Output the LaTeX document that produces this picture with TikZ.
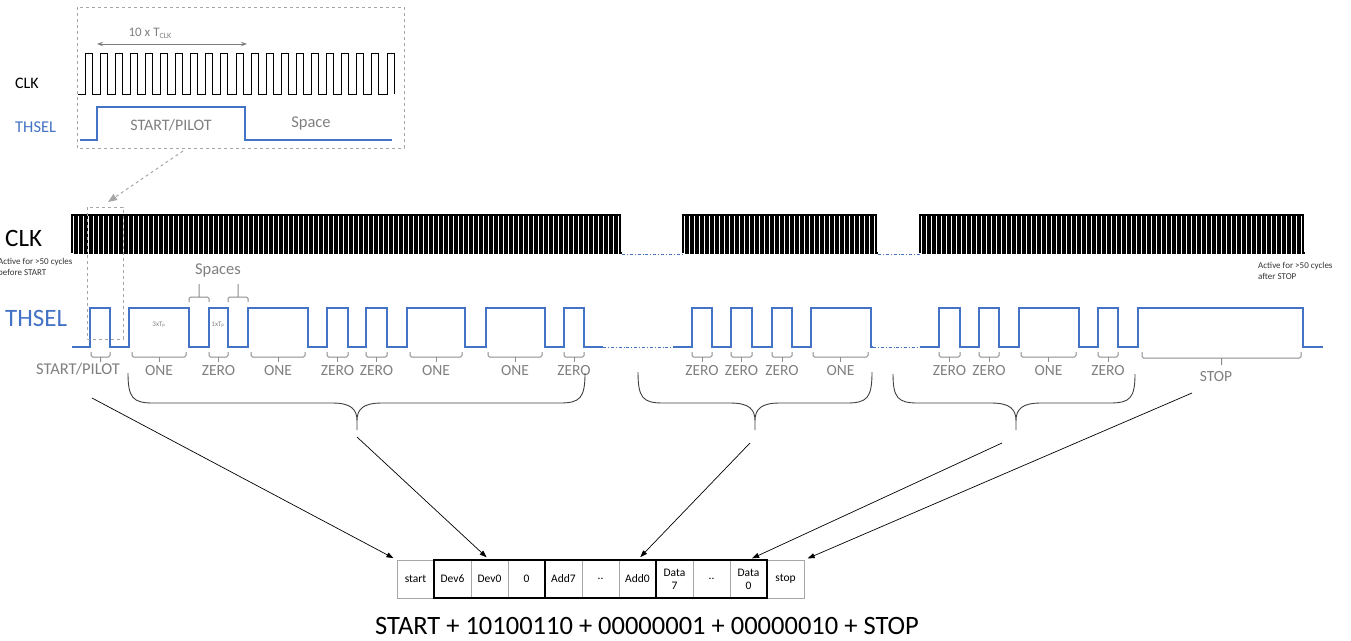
\documentclass[tikz,border=0pt]{standalone}
\usepackage{fontspec}
\setmainfont{Carlito}
\usetikzlibrary{arrows.meta,positioning}
\definecolor{thselblue}{HTML}{4472C4}
\definecolor{labgray}{HTML}{7F7F7F}
\definecolor{brgray}{HTML}{8C8C8C}
\definecolor{boxgray}{HTML}{A6A6A6}

\begin{document}
\begin{tikzpicture}[x=1pt, y=-1pt,
  clk/.style={black, line width=2pt},
  thsel/.style={thselblue, line width=1.1pt},
  gapline/.style={thselblue, line width=0.8pt, dash dot},
  bitbr/.style={brgray, line width=1pt, rounded corners=1.5pt},
  bitlbl/.style={text=labgray, font=\fontsize{15.5}{16}\selectfont, inner sep=0pt},
  tinylbl/.style={text=labgray, font=\fontsize{7}{8}\selectfont, inner sep=0pt},
  note/.style={text=black!80, font=\fontsize{9}{11}\selectfont, align=left, inner sep=0pt, anchor=west},
  bigbrace/.style={black!75, line width=0.9pt},
  link/.style={-{Triangle[length=7pt,width=5pt]}, line width=0.7pt, shorten >=4pt},
  zoombox/.style={boxgray, dashed, line width=0.8pt},
  cell/.style={draw=boxgray, line width=0.6pt, minimum width=37pt, minimum height=38pt,
    inner sep=1pt, outer sep=0pt, align=center, font=\fontsize{11.5}{13}\selectfont},
  grp/.style={black, line width=1.8pt}
]
\useasboundingbox (0,0) rectangle (1351,640);

% zoomed view of the start
\draw[zoombox] (77,7) rectangle (404,148);
\node[anchor=west, inner sep=0pt, font=\fontsize{16}{18}\selectfont] (clkin) at (15,83) {CLK};
\node[anchor=west, inner sep=0pt, text=thselblue, font=\fontsize{16.5}{18}\selectfont] (thselin) at (15,127) {THSEL};
\draw[line width=0.9pt] (78,94) -- (85,94)
  \foreach \i in {1,...,20} { -- ++(0,-41) -- ++(7,0) -- ++(0,41) -- ++(8.1,0) }
  -- ++(0,-41) -- ++(7,0) -- ++(0,41);
\coordinate (tl) at (97,44);
\coordinate (tr) at (247,44);
\draw[labgray, line width=0.9pt, {Stealth[length=6pt]}-{Stealth[length=6pt]}] (tl) -- (tr);
\node[text=labgray, inner sep=0pt, font=\fontsize{13}{14}\selectfont] (tclk) at (150,33)
  {10 x T\raisebox{-0.35ex}{\fontsize{8}{9}\selectfont CLK}};
\draw[thsel] (80,140) -- (97,140) -- (97,107) -- (245,107) -- (245,140) -- (392,140);
\node[bitlbl, font=\fontsize{16}{18}\selectfont] (pilotin) at (171,125) {START/PILOT};
\node[bitlbl, font=\fontsize{16.5}{18}\selectfont] (spacein) at (311,123) {Space};
\coordinate (zoomfrom) at (183,151);
\coordinate (zoomto) at (108,202);
\draw[zoombox, line width=1pt, -{Triangle[length=9pt,width=7pt]}] (zoomfrom) -- (zoomto);

% CLK bursts
\node[anchor=west, inner sep=0pt, font=\fontsize{25}{27}\selectfont] (clk) at (5,238) {CLK};
\foreach \x/\n in {72/110, 683/39, 920/77}
  \draw[clk] (\x,253) \foreach \i in {1,...,\n} { -- ++(0,-38) -- ++(2.5,0) -- ++(0,38) -- ++(2.5,0) };
\draw[gapline] (622,254) -- (683,254);
\draw[gapline] (878,254) -- (920,254);
\node[note] (before) at (-2,267) {Active for >50 cycles\\before START};
\node[note] (after) at (1258,271) {Active for >50 cycles\\after STOP};

% THSEL
\node[anchor=west, inner sep=0pt, text=thselblue, font=\fontsize{25}{27}\selectfont] (thsel) at (5,318) {THSEL};
\draw[thsel] (72,347) -- (90,347) -- (90,308) -- (110,308) -- (110,347) -- (129,347)
  -- (129,308) -- (189,308) -- (189,347) -- (209,347) -- (209,308) -- (228,308)
  -- (228,347) -- (248,347) -- (248,308) -- (308,308) -- (308,347) -- (327,347)
  -- (327,308) -- (348,308) -- (348,347) -- (366,347) -- (366,308) -- (387,308)
  -- (387,347) -- (407,347) -- (407,308) -- (465,308) -- (465,347) -- (486,347)
  -- (486,308) -- (545,308) -- (545,347) -- (564,347) -- (564,308) -- (584,308)
  -- (584,347) -- (603,347);
\draw[gapline] (603,347) -- (673,347);
\draw[thsel] (673,347) -- (692,347) -- (692,308) -- (712,308) -- (712,347) -- (731,347)
  -- (731,308) -- (752,308) -- (752,347) -- (772,347) -- (772,308) -- (792,308)
  -- (792,347) -- (811,347) -- (811,308) -- (871,308) -- (871,347) -- (873,347);
\draw[gapline] (873,347) -- (920,347);
\draw[thsel] (920,347) -- (939,347) -- (939,308) -- (960,308) -- (960,347) -- (979,347)
  -- (979,308) -- (999,308) -- (999,347) -- (1019,347) -- (1019,308) -- (1079,308)
  -- (1079,347) -- (1098,347) -- (1098,308) -- (1118,308) -- (1118,347) -- (1138,347)
  -- (1138,308) -- (1303,308) -- (1303,347) -- (1323,347);
\draw[zoombox] (87,207) rectangle (123,339);
\node[tinylbl] (tp3) at (159,325) {3xT\textsubscript{P}};
\node[tinylbl] (tp1) at (218,325) {1xT\textsubscript{P}};

% spaces
\foreach \a/\b in {189/209, 228/248}
  \draw[bitbr] (\a,302) -- (\a,297) -- (\b,297) -- (\b,302) ({(\a+\b)/2},297) -- ++(0,-13);
\node[bitlbl, font=\fontsize{16.5}{18}\selectfont] (spaces) at (218,270) {Spaces};

% bit brackets
\draw[bitbr] (91,352) -- (91,357) -- (110,357) -- (110,352) (100.5,357) -- ++(0,5);
\node[bitlbl, font=\fontsize{16.5}{18}\selectfont] (pilot) at (78,369) {START/PILOT};
\foreach \a/\b/\lab [count=\i] in {132/186/ONE, 209/228/ZERO, 251/305/ONE, 327/348/ZERO,
    366/387/ZERO, 410/462/ONE, 488/542/ONE, 564/584/ZERO, 692/712/ZERO, 731/752/ZERO,
    772/792/ZERO, 813/868/ONE, 939/960/ZERO, 979/999/ZERO, 1021/1076/ONE, 1098/1118/ZERO} {
  \draw[bitbr] (\a,352) -- (\a,357) -- (\b,357) -- (\b,352);
  \draw[bitbr] ({(\a+\b)/2},357) -- ++(0,5) node[bitlbl, anchor=north, yshift=-3pt] (bit\i) {\lab};
}
\draw[bitbr] (1142,352) -- (1142,358) -- (1301,358) -- (1301,352) (1221.5,358) -- ++(0,7);
\node[bitlbl] (stoplbl) at (1216,377) {STOP};

% group braces
\foreach \l/\m/\r/\t in {128/357/585/373, 638/755/872/372, 893/1016/1135/374}
  \draw[bigbrace] (\l,\t) .. controls (\l,398) and ({\l+5},403) .. ({\l+25},403) -- ({\m-25},403)
    .. controls ({\m-6},403) and (\m,409) .. (\m,421) -- (\m,430)
    (\m,421) .. controls (\m,409) and ({\m+6},403) .. ({\m+25},403) -- ({\r-25},403)
    .. controls ({\r-5},403) and (\r,398) .. (\r,\t);

% frame
\node[cell] (start) at (415.5,579) {start};
\node[cell, right=0pt of start] (dev6) {Dev6};
\node[cell, right=0pt of dev6] (dev0) {Dev0};
\node[cell, right=0pt of dev0] (zero) {0};
\node[cell, right=0pt of zero] (add7) {Add7};
\node[cell, right=0pt of add7] (dots1) {..};
\node[cell, right=0pt of dots1] (add0) {Add0};
\node[cell, right=0pt of add0] (data7) {Data\\7};
\node[cell, right=0pt of data7] (dots2) {..};
\node[cell, right=0pt of dots2] (data0) {Data\\0};
\node[cell, right=0pt of data0] (stop) {stop};
\draw[grp] (dev6.north west) rectangle (zero.south east);
\draw[grp] (add7.north west) rectangle (add0.south east);
\draw[grp] (data7.north west) rectangle (data0.south east);
\node[inner sep=0pt, font=\fontsize{26.5}{30}\selectfont] (summary) at (647,626)
  {START + 10100110 + 00000001 + 00000010 + STOP};

% arrows to the frame
\coordinate (pilotarr) at (92,398);
\coordinate (tip1) at (357,437);
\coordinate (tip2) at (750,443);
\coordinate (tip3) at (1002,443);
\coordinate (stoparr) at (1192,393);
\draw[link] (pilotarr) -- (start.north west);
\draw[link] (tip1) -- (dev0.north);
\draw[link] (tip2) -- (add0.north);
\draw[link] (tip3) -- (data0.north);
\draw[link] (stoparr) -- (stop.north east);
\end{tikzpicture}
\end{document}
